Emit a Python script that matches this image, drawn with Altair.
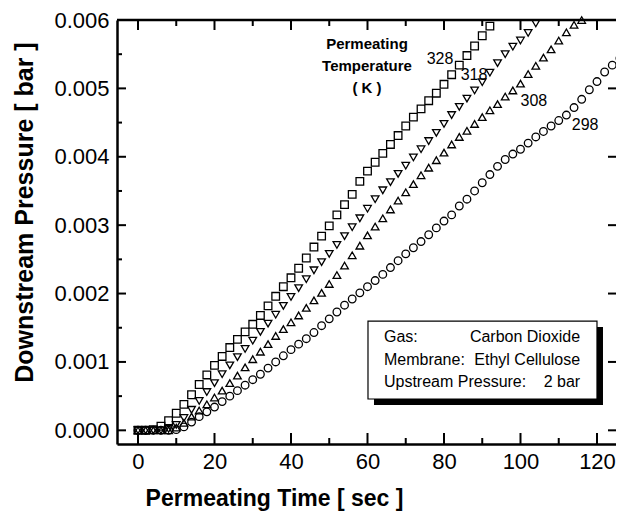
import altair as alt
import pandas as pd

# ---------------- data (pressure in 10^-3 bar) ----------------
times = [0, 2, 4, 6, 8, 10, 12, 14, 16, 18, 20, 22, 24, 26, 28, 30, 32, 34, 36, 38,
         40, 42, 44, 46, 48, 50, 52, 54, 56, 58, 60, 62, 64, 66, 68, 70, 72, 74, 76, 78,
         80, 82, 84, 86, 88, 90, 92, 94, 96, 98, 100, 102, 104, 106, 108, 110, 112, 114,
         116, 118, 120, 122, 124, 126]

p328 = [0.00, 0.00, 0.01, 0.06, 0.14, 0.25, 0.38, 0.52, 0.67, 0.81, 0.95, 1.08, 1.21,
        1.33, 1.44, 1.55, 1.68, 1.82, 1.96, 2.10, 2.23, 2.37, 2.52, 2.68, 2.84, 2.99,
        3.15, 3.30, 3.45, 3.64, 3.79, 3.92, 4.05, 4.18, 4.31, 4.45, 4.58, 4.70, 4.82,
        4.93, 5.06, 5.20, 5.34, 5.48, 5.62, 5.77, 5.91]

p318 = [0.00, 0.00, 0.00, 0.00, 0.02, 0.08, 0.18, 0.30, 0.43, 0.56, 0.69, 0.82, 0.95,
        1.07, 1.19, 1.31, 1.44, 1.56, 1.69, 1.82, 1.95, 2.08, 2.21, 2.34, 2.46, 2.58,
        2.71, 2.84, 2.97, 3.10, 3.24, 3.38, 3.51, 3.63, 3.75, 3.87, 3.99, 4.11, 4.23,
        4.35, 4.48, 4.61, 4.73, 4.85, 4.97, 5.09, 5.23, 5.37, 5.50, 5.61, 5.70, 5.81,
        5.95]

p308 = [0.00, 0.00, 0.00, 0.00, 0.00, 0.04, 0.11, 0.20, 0.29, 0.38, 0.48, 0.58, 0.69,
        0.80, 0.92, 1.04, 1.15, 1.26, 1.38, 1.48, 1.58, 1.68, 1.79, 1.90, 2.01, 2.14,
        2.27, 2.41, 2.56, 2.70, 2.85, 2.98, 3.10, 3.23, 3.36, 3.48, 3.60, 3.73, 3.84,
        3.95, 4.06, 4.18, 4.29, 4.38, 4.48, 4.58, 4.68, 4.77, 4.88, 4.97, 5.07, 5.21,
        5.33, 5.45, 5.57, 5.70, 5.82, 5.93, 6.00]

p298 = [0.00, 0.00, 0.00, 0.00, 0.00, 0.01, 0.05, 0.12, 0.20, 0.27, 0.34, 0.42, 0.50,
        0.58, 0.66, 0.74, 0.82, 0.91, 1.00, 1.09, 1.18, 1.26, 1.34, 1.43, 1.53, 1.63,
        1.73, 1.83, 1.92, 2.01, 2.10, 2.19, 2.28, 2.38, 2.48, 2.58, 2.67, 2.76, 2.86,
        2.96, 3.06, 3.15, 3.28, 3.38, 3.50, 3.62, 3.74, 3.86, 3.96, 4.04, 4.11, 4.20,
        4.29, 4.37, 4.45, 4.53, 4.61, 4.72, 4.84, 4.98, 5.10, 5.24, 5.34, 5.44]

temps = ["328", "318", "308", "298"]
shapes = ["square", "triangle-down", "triangle-up", "circle"]

x_major = [0, 20, 40, 60, 80, 100, 120]
x_minor = [10, 30, 50, 70, 90, 110]
y_major = [0.000, 0.001, 0.002, 0.003, 0.004, 0.005, 0.006]
y_minor = [0.0005, 0.0015, 0.0025, 0.0035, 0.0045, 0.0055]

info_left = ["Gas:", "Membrane:", "Upstream Pressure:"]
info_right = ["Carbon Dioxide", "Ethyl Cellulose", "2 bar"]

# ---------------- build tables ----------------
rows = []
for name, vals in zip(temps, [p328, p318, p308, p298]):
    for t, v in zip(times, vals):
        rows.append({"t": t, "p": v / 1000.0, "T": name})
df = pd.DataFrame(rows)

W, H = 499, 424
FONT = "Liberation Sans"
xs = alt.Scale(domain=[-5.49, 124.97], nice=False, zero=False)
ys = alt.Scale(domain=[-0.0002, 0.006], nice=False, zero=False)

x_axis = alt.Axis(
    values=x_major, format="d", title="Permeating Time [ sec ]",
    ticks=False, tickSize=0, grid=False, domain=True, domainWidth=2.5,
    domainColor="black", labelFont=FONT, labelFontSize=22, labelColor="black",
    labelPadding=7, labelFlush=False, titleFont=FONT, titleFontSize=23,
    titleFontWeight="bold", titleColor="black", titleX=157, titleY=54,
    titleAlign="center", titleBaseline="middle")
y_axis = alt.Axis(
    values=y_major, format=".3f", title="Downstream Pressure [ bar ]",
    ticks=False, tickSize=0, grid=False, domain=True, domainWidth=2.5,
    domainColor="black", labelFont=FONT, labelFontSize=22, labelColor="black",
    labelPadding=8, labelFlush=False, titleFont=FONT, titleFontSize=25,
    titleFontWeight="bold", titleColor="black", titleX=-93, titleY=192,
    titleAngle=270, titleAlign="center", titleBaseline="middle")

X = lambda f="t": alt.X(f"{f}:Q", scale=xs, axis=x_axis)
Y = lambda f="p": alt.Y(f"{f}:Q", scale=ys, axis=y_axis)

points = alt.Chart(df).mark_point(filled=False, color="black", strokeWidth=1.3,
                                  opacity=1, size=58, clip=False).encode(
    x=X(), y=Y(),
    shape=alt.Shape("T:N", scale=alt.Scale(domain=temps, range=shapes), legend=None),
)

def xrule(vals, y0, y1):
    return alt.Chart(pd.DataFrame({"t": vals})).mark_rule(color="black", strokeWidth=2).encode(
        x=X(), y=alt.value(y0), y2=alt.value(y1))

def yrule(vals, x0, x1):
    return alt.Chart(pd.DataFrame({"p": vals})).mark_rule(color="black", strokeWidth=2).encode(
        y=Y(), x=alt.value(x0), x2=alt.value(x1))

ticks = [
    xrule(x_major, H, H - 11), xrule(x_minor, H, H - 6),
    xrule(x_major, 0, 10), xrule(x_minor, 0, 6),
    yrule(y_major, 0, 9), yrule(y_minor, 0, 5),
    yrule(y_major, W, W - 8),
]

top_frame = alt.Chart(pd.DataFrame({"a": [0]})).mark_rule(color="black", strokeWidth=2.5).encode(
    x=alt.value(0), x2=alt.value(W), y=alt.value(0))

# curve labels
lab = pd.DataFrame({"txt": temps,
                    "t": [78.95, 87.84, 103.5, 116.9],
                    "p": [0.00543, 0.005196, 0.004816, 0.004465]})
labels = alt.Chart(lab).mark_text(font=FONT, fontSize=16, color="black").encode(
    x=X(), y=Y(), text="txt:N")

ttl = pd.DataFrame({"txt": ["Permeating\nTemperature\n( K )"], "t": [59.87], "p": [0.005752]})
temp_title = alt.Chart(ttl).mark_text(font=FONT, fontSize=15, fontWeight="bold", color="black",
                                       baseline="top", lineBreak="\n", lineHeight=22).encode(
    x=X(), y=Y(), text="txt:N")

# info box
box = pd.DataFrame({"t": [60.13], "t2": [120.0], "p": [0.001598], "p2": [0.000458]})
shadow = alt.Chart(box).mark_rect(color="black", xOffset=6, x2Offset=6, yOffset=6, y2Offset=6).encode(
    x=X(), x2="t2:Q", y=Y(), y2="p2:Q")
frame_box = alt.Chart(box).mark_rect(fill="white", stroke="black", strokeWidth=1.2).encode(
    x=X(), x2="t2:Q", y=Y(), y2="p2:Q")

info = pd.DataFrame({"l": info_left, "r": info_right,
                     "t": [64.3] * 3, "tr": [115.6] * 3,
                     "p": [0.001364, 0.001028, 0.000706]})
info_l = alt.Chart(info).mark_text(font=FONT, fontSize=16, color="black", align="left").encode(
    x=X(), y=Y(), text="l:N")
info_r = alt.Chart(info).mark_text(font=FONT, fontSize=16, color="black", align="right").encode(
    x=X("tr"), y=Y(), text="r:N")

chart = alt.layer(
    points, *ticks, top_frame, labels, temp_title, shadow, frame_box, info_l, info_r
).properties(
    width=W, height=H,
    autosize=alt.AutoSizeParams(type="none"),
    padding={"left": 109, "top": 12, "right": 0, "bottom": 72},
).configure_view(stroke=None).configure(background="white")

chart.save("out.html", embed_options={"renderer": "svg", "actions": False})
